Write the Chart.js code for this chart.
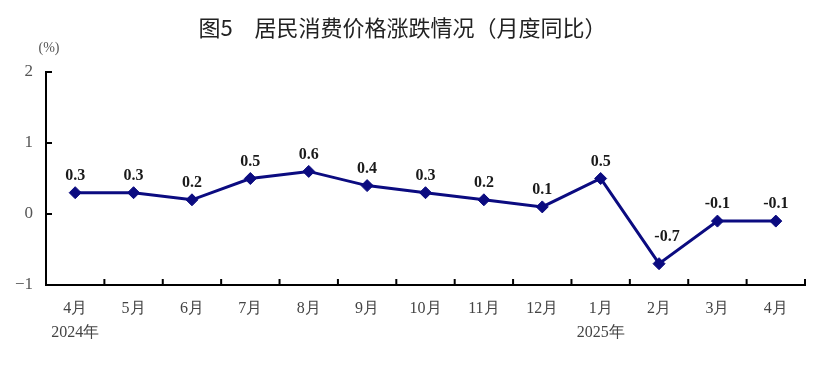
<!DOCTYPE html>
<html>
<head>
<meta charset="utf-8">
<script src="https://cdn.jsdelivr.net/npm/chart.js@4/dist/chart.umd.min.js"></script>
<style>
  html, body { margin: 0; padding: 0; background: #fff; }
  #wrap { width: 824px; height: 392px; position: relative; }
</style>
</head>
<body>
<div id="wrap"><canvas id="c" width="824" height="392"></canvas></div>
<script>
const titleText = '图5　居民消费价格涨跌情况（月度同比）';
const unitLabel = '(%)';
const categories = [['4月','2024年'],'5月','6月','7月','8月','9月','10月','11月','12月',['1月','2025年'],'2月','3月','4月'];
const cpiYoY = [0.3, 0.3, 0.2, 0.5, 0.6, 0.4, 0.3, 0.2, 0.1, 0.5, -0.7, -0.1, -0.1];
const yMin = -1, yMax = 2, yStep = 1;

const SERIF = "'Liberation Serif', 'Times New Roman', serif";
const NAVY = '#0b0b80';

const decorPlugin = {
  id: 'decor',
  afterDraw(chart) {
    const ctx = chart.ctx;
    const xs = chart.scales.x, ys = chart.scales.y;
    const area = chart.chartArea;
    ctx.save();
    // inward ticks
    ctx.strokeStyle = '#000';
    ctx.lineWidth = 2;
    ctx.beginPath();
    ys.ticks.forEach((t, i) => {
      const py = ys.getPixelForTick(i);
      ctx.moveTo(area.left, py);
      ctx.lineTo(area.left + 6, py);
    });
    const n = categories.length;
    for (let k = 1; k <= n; k++) {
      const px = area.left + (area.right - area.left) * k / n;
      ctx.moveTo(px, area.bottom);
      ctx.lineTo(px, area.bottom - 6);
    }
    ctx.stroke();
    // unit label
    ctx.fillStyle = '#555';
    ctx.font = '14px ' + SERIF;
    ctx.textAlign = 'center';
    ctx.textBaseline = 'middle';
    ctx.fillText(unitLabel, 49, 48);
    // data labels
    const meta = chart.getDatasetMeta(0);
    ctx.fillStyle = '#1a1a1a';
    ctx.font = 'bold 16px ' + SERIF;
    let minIdx = 0;
    cpiYoY.forEach((v, i) => { if (v < cpiYoY[minIdx]) minIdx = i; });
    meta.data.forEach((pt, i) => {
      const v = cpiYoY[i];
      let dx = 0, dy = -17;
      if (i === minIdx) { dx = 8; dy = -27; }
      ctx.fillText(v.toFixed(1), pt.x + dx, pt.y + dy);
    });
    ctx.restore();
  }
};

new Chart(document.getElementById('c'), {
  type: 'line',
  data: {
    labels: categories,
    datasets: [{
      data: cpiYoY,
      borderColor: NAVY,
      backgroundColor: NAVY,
      borderWidth: 3,
      pointStyle: 'rectRot',
      pointRadius: 6,
      pointHoverRadius: 6,
      pointBackgroundColor: NAVY,
      pointBorderColor: NAVY,
      pointBorderWidth: 1,
      tension: 0,
      fill: false
    }]
  },
  options: {
    responsive: false,
    animation: false,
    devicePixelRatio: 1,
    layout: { padding: { left: 0, right: 19, top: 0, bottom: 0 } },
    plugins: {
      legend: { display: false },
      tooltip: { enabled: false },
      title: {
        display: true,
        text: titleText,
        color: '#222',
        font: { family: "'Noto Sans CJK SC', sans-serif", size: 22, weight: 'normal', lineHeight: 1.2 },
        padding: { top: 14, bottom: 31.6 }
      }
    },
    scales: {
      x: {
        offset: true,
        grid: { display: true, offset: true, drawOnChartArea: false, drawTicks: false },
        border: { display: true, color: '#000', width: 2 },
        ticks: {
          color: '#444',
          font: { family: SERIF, size: 16, lineHeight: 1.5 },
          padding: 12,
          maxRotation: 0,
          autoSkip: false
        },
        afterFit(s) { s.height = 107; }
      },
      y: {
        min: yMin,
        max: yMax,
        grid: { display: true, drawOnChartArea: false, drawTicks: false },
        border: { display: true, color: '#000', width: 2 },
        ticks: {
          stepSize: yStep,
          color: '#555',
          font: { family: SERIF, size: 17 },
          padding: 13,
          callback: v => String(v).replace('-', '\u2212')
        },
        afterFit(s) { s.width = 46; }
      }
    }
  },
  plugins: [decorPlugin]
});
</script>
</body>
</html>
